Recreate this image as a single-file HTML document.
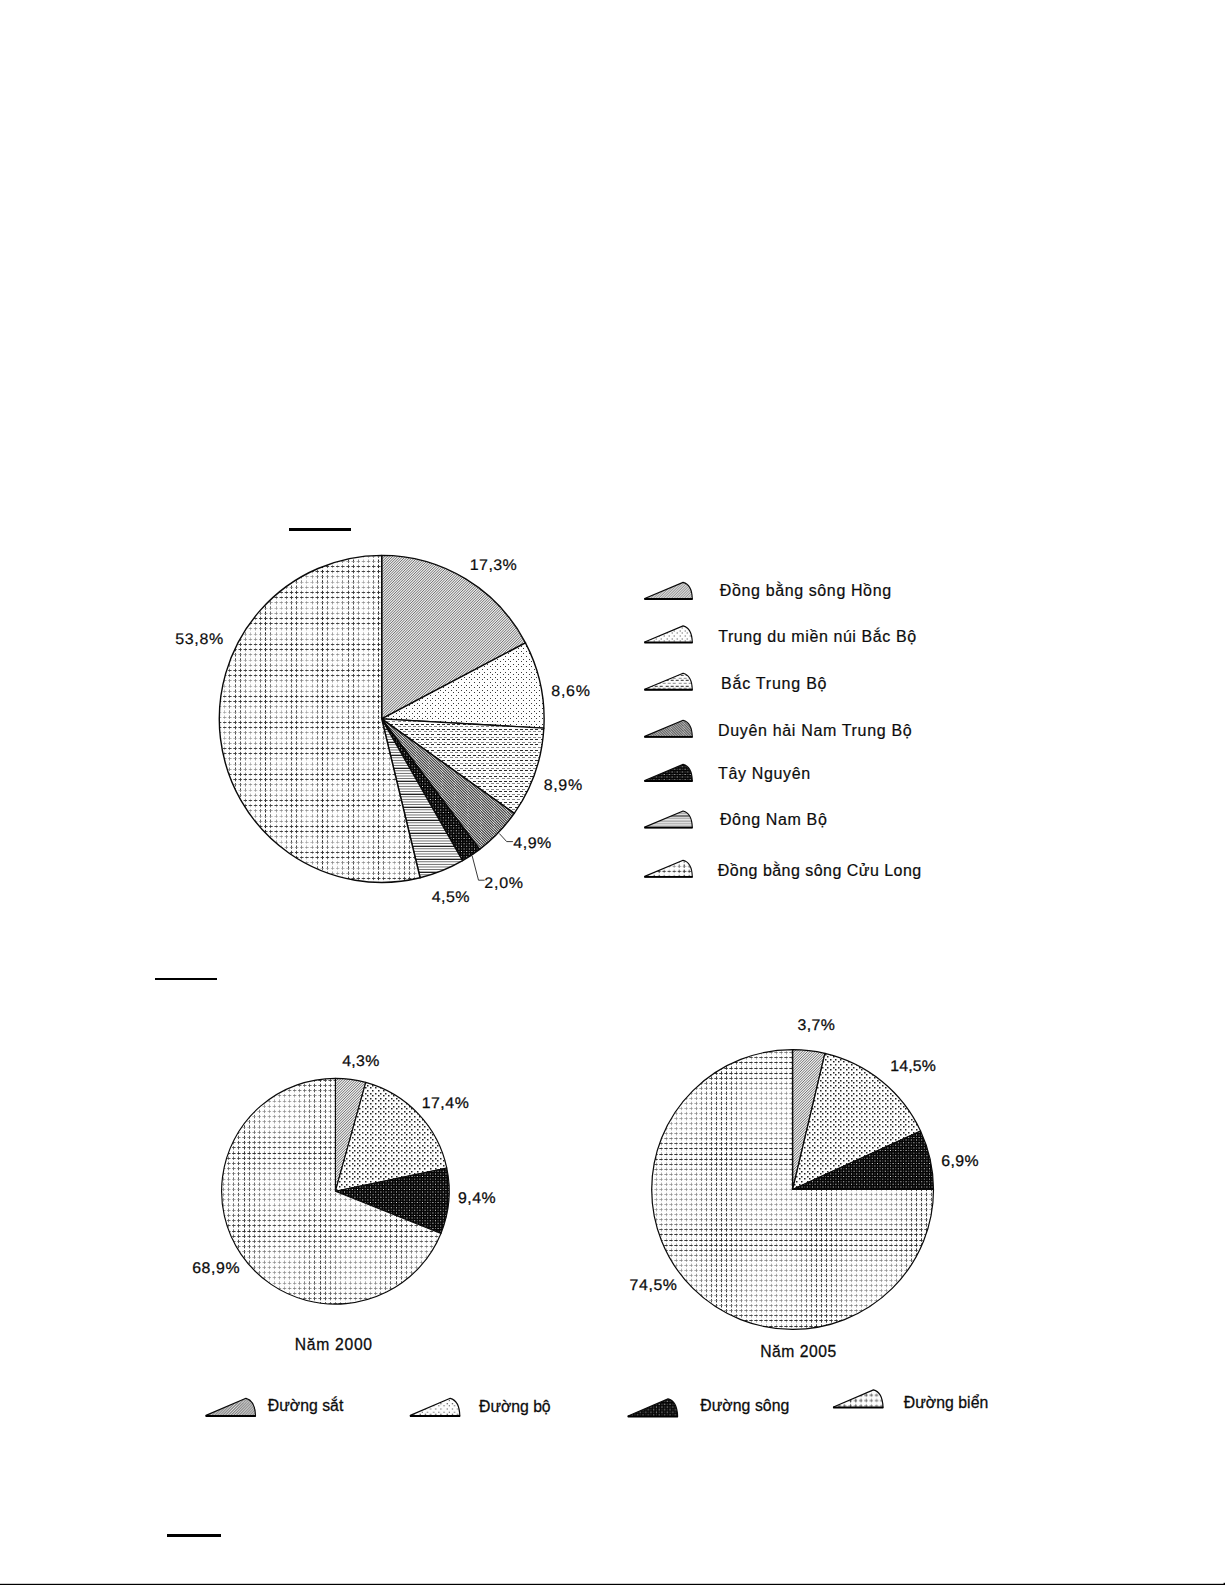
<!DOCTYPE html>
<html lang="vi"><head><meta charset="utf-8"><title>Biểu đồ</title>
<style>
html,body{margin:0;padding:0;background:#fff}
body{width:1225px;height:1585px;overflow:hidden}
svg{display:block}
text{font-family:"Liberation Sans", "DejaVu Sans", sans-serif;fill:#0c0c0c;stroke:#0c0c0c;stroke-width:0.2px}
text.g{text-rendering:geometricPrecision}
text.b{stroke-width:0.26px}
</style></head><body>
<svg width="1225" height="1585" viewBox="0 0 1225 1585">
<defs>
<pattern id="pDiag" width="13" height="13" patternUnits="userSpaceOnUse"><rect width="13" height="13" fill="#e8e8e8"/><path d="M0,0L-13,13M2.6,0L-10.4,13M5.2,0L-7.8,13M7.8,0L-5.2,13M10.4,0L-2.6,13M13,0L0,13M15.6,0L2.6,13M18.2,0L5.2,13M20.8,0L7.8,13M23.4,0L10.4,13M26,0L13,13M28.6,0L15.6,13" stroke="#757575" stroke-width="1.0" fill="none"/></pattern>
<pattern id="pGray" width="13" height="13" patternUnits="userSpaceOnUse"><rect width="13" height="13" fill="#ececec"/><path d="M0,0L-13,13M2.6,0L-10.4,13M5.2,0L-7.8,13M7.8,0L-5.2,13M10.4,0L-2.6,13M13,0L0,13M15.6,0L2.6,13M18.2,0L5.2,13M20.8,0L7.8,13M23.4,0L10.4,13M26,0L13,13M28.6,0L15.6,13" stroke="#757575" stroke-width="1.0" fill="none"/></pattern>
<pattern id="pDiagD" width="13" height="13" patternUnits="userSpaceOnUse"><rect width="13" height="13" fill="#f4f4f4"/><path d="M0,-15.6L13,-2.6M0,-13L13,0M0,-10.4L13,2.6M0,-7.8L13,5.2M0,-5.2L13,7.8M0,-2.6L13,10.4M0,0L13,13M0,2.6L13,15.6M0,5.2L13,18.2M0,7.8L13,20.8M0,10.4L13,23.4M0,13L13,26M0,15.6L13,28.6" stroke="#343434" stroke-width="1.05" fill="none"/></pattern>
<pattern id="pDotS" width="26" height="26" patternUnits="userSpaceOnUse"><rect width="26" height="26" fill="#fdfdfd"/><path d="M-4,1h1v1h-1zM1,1h1v1h-1zM6,1h1v1h-1zM11,1h1v1h-1zM16,1h1v1h-1zM22,1h1v1h-1zM27,1h1v1h-1zM-4,6h1v1h-1zM1,6h1v1h-1zM6,6h1v1h-1zM11,6h1v1h-1zM16,6h1v1h-1zM22,6h1v1h-1zM27,6h1v1h-1zM-4,11h1v1h-1zM1,11h1v1h-1zM6,11h1v1h-1zM11,11h1v1h-1zM16,11h1v1h-1zM22,11h1v1h-1zM27,11h1v1h-1zM-4,16h1v1h-1zM1,16h1v1h-1zM6,16h1v1h-1zM11,16h1v1h-1zM16,16h1v1h-1zM22,16h1v1h-1zM27,16h1v1h-1zM-4,22h1v1h-1zM1,22h1v1h-1zM6,22h1v1h-1zM11,22h1v1h-1zM16,22h1v1h-1zM22,22h1v1h-1zM27,22h1v1h-1z" fill="#383838"/><path d="M-2,3h1v1h-1zM3,3h1v1h-1zM9,3h1v1h-1zM14,3h1v1h-1zM19,3h1v1h-1zM24,3h1v1h-1zM29,3h1v1h-1zM-2,9h1v1h-1zM3,9h1v1h-1zM9,9h1v1h-1zM14,9h1v1h-1zM19,9h1v1h-1zM24,9h1v1h-1zM29,9h1v1h-1zM-2,14h1v1h-1zM3,14h1v1h-1zM9,14h1v1h-1zM14,14h1v1h-1zM19,14h1v1h-1zM24,14h1v1h-1zM29,14h1v1h-1zM-2,19h1v1h-1zM3,19h1v1h-1zM9,19h1v1h-1zM14,19h1v1h-1zM19,19h1v1h-1zM24,19h1v1h-1zM29,19h1v1h-1zM-2,24h1v1h-1zM3,24h1v1h-1zM9,24h1v1h-1zM14,24h1v1h-1zM19,24h1v1h-1zM24,24h1v1h-1zM29,24h1v1h-1z" fill="#383838"/></pattern>
<pattern id="pDotM" width="26" height="26" patternUnits="userSpaceOnUse"><rect width="26" height="26" fill="#fdfdfd"/><path d="M-5,1h1.5v1.5h-1.5zM1,1h1.5v1.5h-1.5zM6,1h1.5v1.5h-1.5zM11,1h1.5v1.5h-1.5zM16,1h1.5v1.5h-1.5zM21,1h1.5v1.5h-1.5zM27,1h1.5v1.5h-1.5zM-5,6h1.5v1.5h-1.5zM1,6h1.5v1.5h-1.5zM6,6h1.5v1.5h-1.5zM11,6h1.5v1.5h-1.5zM16,6h1.5v1.5h-1.5zM21,6h1.5v1.5h-1.5zM27,6h1.5v1.5h-1.5zM-5,11h1.5v1.5h-1.5zM1,11h1.5v1.5h-1.5zM6,11h1.5v1.5h-1.5zM11,11h1.5v1.5h-1.5zM16,11h1.5v1.5h-1.5zM21,11h1.5v1.5h-1.5zM27,11h1.5v1.5h-1.5zM-5,16h1.5v1.5h-1.5zM1,16h1.5v1.5h-1.5zM6,16h1.5v1.5h-1.5zM11,16h1.5v1.5h-1.5zM16,16h1.5v1.5h-1.5zM21,16h1.5v1.5h-1.5zM27,16h1.5v1.5h-1.5zM-5,21h1.5v1.5h-1.5zM1,21h1.5v1.5h-1.5zM6,21h1.5v1.5h-1.5zM11,21h1.5v1.5h-1.5zM16,21h1.5v1.5h-1.5zM21,21h1.5v1.5h-1.5zM27,21h1.5v1.5h-1.5z" fill="#222"/><path d="M-2,3h1.5v1.5h-1.5zM3,3h1.5v1.5h-1.5zM8,3h1.5v1.5h-1.5zM14,3h1.5v1.5h-1.5zM19,3h1.5v1.5h-1.5zM24,3h1.5v1.5h-1.5zM29,3h1.5v1.5h-1.5zM-2,8h1.5v1.5h-1.5zM3,8h1.5v1.5h-1.5zM8,8h1.5v1.5h-1.5zM14,8h1.5v1.5h-1.5zM19,8h1.5v1.5h-1.5zM24,8h1.5v1.5h-1.5zM29,8h1.5v1.5h-1.5zM-2,14h1.5v1.5h-1.5zM3,14h1.5v1.5h-1.5zM8,14h1.5v1.5h-1.5zM14,14h1.5v1.5h-1.5zM19,14h1.5v1.5h-1.5zM24,14h1.5v1.5h-1.5zM29,14h1.5v1.5h-1.5zM-2,19h1.5v1.5h-1.5zM3,19h1.5v1.5h-1.5zM8,19h1.5v1.5h-1.5zM14,19h1.5v1.5h-1.5zM19,19h1.5v1.5h-1.5zM24,19h1.5v1.5h-1.5zM29,19h1.5v1.5h-1.5zM-2,24h1.5v1.5h-1.5zM3,24h1.5v1.5h-1.5zM8,24h1.5v1.5h-1.5zM14,24h1.5v1.5h-1.5zM19,24h1.5v1.5h-1.5zM24,24h1.5v1.5h-1.5zM29,24h1.5v1.5h-1.5z" fill="#222"/></pattern>
<pattern id="pDash" width="26" height="26" patternUnits="userSpaceOnUse"><rect width="26" height="26" fill="#fdfdfd"/><path d="M-5,1h3v1h-3zM0,1h3v1h-3zM5,1h3v1h-3zM10,1h3v1h-3zM15,1h3v1h-3zM21,1h3v1h-3zM26,1h3v1h-3zM-5,6h3v1h-3zM0,6h3v1h-3zM5,6h3v1h-3zM10,6h3v1h-3zM15,6h3v1h-3zM21,6h3v1h-3zM26,6h3v1h-3zM-5,11h3v1h-3zM0,11h3v1h-3zM5,11h3v1h-3zM10,11h3v1h-3zM15,11h3v1h-3zM21,11h3v1h-3zM26,11h3v1h-3zM-5,16h3v1h-3zM0,16h3v1h-3zM5,16h3v1h-3zM10,16h3v1h-3zM15,16h3v1h-3zM21,16h3v1h-3zM26,16h3v1h-3zM-5,22h3v1h-3zM0,22h3v1h-3zM5,22h3v1h-3zM10,22h3v1h-3zM15,22h3v1h-3zM21,22h3v1h-3zM26,22h3v1h-3z" fill="#2c2c2c"/><path d="M-3,3h3v1h-3zM2,3h3v1h-3zM8,3h3v1h-3zM13,3h3v1h-3zM18,3h3v1h-3zM23,3h3v1h-3zM28,3h3v1h-3zM-3,9h3v1h-3zM2,9h3v1h-3zM8,9h3v1h-3zM13,9h3v1h-3zM18,9h3v1h-3zM23,9h3v1h-3zM28,9h3v1h-3zM-3,14h3v1h-3zM2,14h3v1h-3zM8,14h3v1h-3zM13,14h3v1h-3zM18,14h3v1h-3zM23,14h3v1h-3zM28,14h3v1h-3zM-3,19h3v1h-3zM2,19h3v1h-3zM8,19h3v1h-3zM13,19h3v1h-3zM18,19h3v1h-3zM23,19h3v1h-3zM28,19h3v1h-3zM-3,24h3v1h-3zM2,24h3v1h-3zM8,24h3v1h-3zM13,24h3v1h-3zM18,24h3v1h-3zM23,24h3v1h-3zM28,24h3v1h-3z" fill="#8a8a8a"/></pattern>
<pattern id="pBlk" width="26" height="26" patternUnits="userSpaceOnUse"><rect width="26" height="26" fill="#050505"/><path d="M0.83,0.83h0.95v0.95h-0.95zM6.03,0.83h0.95v0.95h-0.95zM11.23,0.83h0.95v0.95h-0.95zM16.43,0.83h0.95v0.95h-0.95zM21.62,0.83h0.95v0.95h-0.95zM3.43,3.43h0.95v0.95h-0.95zM8.63,3.43h0.95v0.95h-0.95zM13.83,3.43h0.95v0.95h-0.95zM19.02,3.43h0.95v0.95h-0.95zM24.23,3.43h0.95v0.95h-0.95zM0.83,6.03h0.95v0.95h-0.95zM6.03,6.03h0.95v0.95h-0.95zM11.23,6.03h0.95v0.95h-0.95zM16.43,6.03h0.95v0.95h-0.95zM21.62,6.03h0.95v0.95h-0.95zM3.43,8.63h0.95v0.95h-0.95zM8.63,8.63h0.95v0.95h-0.95zM13.83,8.63h0.95v0.95h-0.95zM19.02,8.63h0.95v0.95h-0.95zM24.23,8.63h0.95v0.95h-0.95zM0.83,11.23h0.95v0.95h-0.95zM6.03,11.23h0.95v0.95h-0.95zM11.23,11.23h0.95v0.95h-0.95zM16.43,11.23h0.95v0.95h-0.95zM21.62,11.23h0.95v0.95h-0.95zM3.43,13.83h0.95v0.95h-0.95zM8.63,13.83h0.95v0.95h-0.95zM13.83,13.83h0.95v0.95h-0.95zM19.02,13.83h0.95v0.95h-0.95zM24.23,13.83h0.95v0.95h-0.95zM0.83,16.43h0.95v0.95h-0.95zM6.03,16.43h0.95v0.95h-0.95zM11.23,16.43h0.95v0.95h-0.95zM16.43,16.43h0.95v0.95h-0.95zM21.62,16.43h0.95v0.95h-0.95zM3.43,19.02h0.95v0.95h-0.95zM8.63,19.02h0.95v0.95h-0.95zM13.83,19.02h0.95v0.95h-0.95zM19.02,19.02h0.95v0.95h-0.95zM24.23,19.02h0.95v0.95h-0.95zM0.83,21.62h0.95v0.95h-0.95zM6.03,21.62h0.95v0.95h-0.95zM11.23,21.62h0.95v0.95h-0.95zM16.43,21.62h0.95v0.95h-0.95zM21.62,21.62h0.95v0.95h-0.95zM3.43,24.23h0.95v0.95h-0.95zM8.63,24.23h0.95v0.95h-0.95zM13.83,24.23h0.95v0.95h-0.95zM19.02,24.23h0.95v0.95h-0.95zM24.23,24.23h0.95v0.95h-0.95z" fill="#f0f0f0"/><path d="M3.43,0.83h0.95v0.95h-0.95zM8.63,0.83h0.95v0.95h-0.95zM13.83,0.83h0.95v0.95h-0.95zM19.02,0.83h0.95v0.95h-0.95zM24.23,0.83h0.95v0.95h-0.95zM0.83,3.43h0.95v0.95h-0.95zM6.03,3.43h0.95v0.95h-0.95zM11.23,3.43h0.95v0.95h-0.95zM16.43,3.43h0.95v0.95h-0.95zM21.62,3.43h0.95v0.95h-0.95zM3.43,6.03h0.95v0.95h-0.95zM8.63,6.03h0.95v0.95h-0.95zM13.83,6.03h0.95v0.95h-0.95zM19.02,6.03h0.95v0.95h-0.95zM24.23,6.03h0.95v0.95h-0.95zM0.83,8.63h0.95v0.95h-0.95zM6.03,8.63h0.95v0.95h-0.95zM11.23,8.63h0.95v0.95h-0.95zM16.43,8.63h0.95v0.95h-0.95zM21.62,8.63h0.95v0.95h-0.95zM3.43,11.23h0.95v0.95h-0.95zM8.63,11.23h0.95v0.95h-0.95zM13.83,11.23h0.95v0.95h-0.95zM19.02,11.23h0.95v0.95h-0.95zM24.23,11.23h0.95v0.95h-0.95zM0.83,13.83h0.95v0.95h-0.95zM6.03,13.83h0.95v0.95h-0.95zM11.23,13.83h0.95v0.95h-0.95zM16.43,13.83h0.95v0.95h-0.95zM21.62,13.83h0.95v0.95h-0.95zM3.43,16.43h0.95v0.95h-0.95zM8.63,16.43h0.95v0.95h-0.95zM13.83,16.43h0.95v0.95h-0.95zM19.02,16.43h0.95v0.95h-0.95zM24.23,16.43h0.95v0.95h-0.95zM0.83,19.02h0.95v0.95h-0.95zM6.03,19.02h0.95v0.95h-0.95zM11.23,19.02h0.95v0.95h-0.95zM16.43,19.02h0.95v0.95h-0.95zM21.62,19.02h0.95v0.95h-0.95zM3.43,21.62h0.95v0.95h-0.95zM8.63,21.62h0.95v0.95h-0.95zM13.83,21.62h0.95v0.95h-0.95zM19.02,21.62h0.95v0.95h-0.95zM24.23,21.62h0.95v0.95h-0.95zM0.83,24.23h0.95v0.95h-0.95zM6.03,24.23h0.95v0.95h-0.95zM11.23,24.23h0.95v0.95h-0.95zM16.43,24.23h0.95v0.95h-0.95zM21.62,24.23h0.95v0.95h-0.95z" fill="#707070"/></pattern>
<pattern id="pHl" width="13" height="13" patternUnits="userSpaceOnUse"><rect width="13" height="13" fill="#fdfdfd"/><rect y="0.7" width="13" height="1.2" fill="#0a0a0a"/><rect y="3.35" width="13" height="0.85" fill="#5e5e5e"/><rect y="5.95" width="13" height="0.85" fill="#5e5e5e"/><rect y="8.55" width="13" height="0.85" fill="#5e5e5e"/><rect y="11.15" width="13" height="0.85" fill="#5e5e5e"/></pattern>
<pattern id="pGrid" x="237" y="725" width="113" height="26" patternUnits="userSpaceOnUse">
<rect width="113" height="26" fill="#fdfdfd"/>
<path d="M-1.5,-5.2V36.4M3.5,-5.2V36.4M54.5,-5.2V36.4M59.5,-5.2V36.4M111.5,-5.2V36.4M116.5,-5.2V36.4" stroke="#343434" stroke-width="0.9" stroke-dasharray="3.4 1.800" stroke-dashoffset="-0.900" fill="none"/>
<path d="M8.5,-5.2V36.4M49.5,-5.2V36.4M64.5,-5.2V36.4M105.5,-5.2V36.4" stroke="#6a6a6a" stroke-width="0.79" stroke-dasharray="3.4 1.800" stroke-dashoffset="-0.900" fill="none"/>
<path d="M13.5,-5.2V36.4M44.5,-5.2V36.4M69.5,-5.2V36.4M100.5,-5.2V36.4" stroke="#a0a0a0" stroke-width="0.68" stroke-dasharray="3.4 1.800" stroke-dashoffset="-0.900" fill="none"/>
<path d="M18.5,-5.2V36.4M39.5,-5.2V36.4M75.5,-5.2V36.4M95.5,-5.2V36.4" stroke="#858585" stroke-width="0.73" stroke-dasharray="3.4 1.800" stroke-dashoffset="-0.900" fill="none"/>
<path d="M23.5,-5.2V36.4M33.5,-5.2V36.4M80.5,-5.2V36.4M90.5,-5.2V36.4" stroke="#4f4f4f" stroke-width="0.84" stroke-dasharray="3.4 1.800" stroke-dashoffset="-0.900" fill="none"/>
<path d="M28.5,-5.2V36.4M85.5,-5.2V36.4" stroke="#191919" stroke-width="0.95" stroke-dasharray="3.4 1.800" stroke-dashoffset="-0.900" fill="none"/>
<path d="M-4.54,-2.5H123.27M-4.54,2.5H123.27M-4.54,23.5H123.27M-4.54,28.5H123.27" stroke="#343434" stroke-width="0.9" stroke-dasharray="3.4 1.736" stroke-dashoffset="-0.868" fill="none"/>
<path d="M-4.54,7.5H123.27M-4.54,18.5H123.27" stroke="#858585" stroke-width="0.73" stroke-dasharray="3.4 1.736" stroke-dashoffset="-0.868" fill="none"/>
<path d="M-4.54,13.5H123.27" stroke="#a0a0a0" stroke-width="0.68" stroke-dasharray="3.4 1.736" stroke-dashoffset="-0.868" fill="none"/>
</pattern>
<pattern id="pGrid2" x="244" y="1153" width="76" height="78" patternUnits="userSpaceOnUse">
<rect width="76" height="78" fill="#fdfdfd"/>
<path d="M-5.5,-7.8V88.4M5.5,-7.8V88.4M70.5,-7.8V88.4" stroke="#404040" stroke-width="0.9" stroke-dasharray="3.4 1.800" stroke-dashoffset="-0.900" fill="none"/>
<path d="M0.5,-7.8V88.4M76.5,-7.8V88.4" stroke="#2d2d2d" stroke-width="0.95" stroke-dasharray="3.4 1.800" stroke-dashoffset="-0.900" fill="none"/>
<path d="M10.5,-7.8V88.4M65.5,-7.8V88.4" stroke="#525252" stroke-width="0.84" stroke-dasharray="3.4 1.800" stroke-dashoffset="-0.900" fill="none"/>
<path d="M15.5,-7.8V88.4M60.5,-7.8V88.4" stroke="#656565" stroke-width="0.79" stroke-dasharray="3.4 1.800" stroke-dashoffset="-0.900" fill="none"/>
<path d="M20.5,-7.8V88.4M55.5,-7.8V88.4" stroke="#777777" stroke-width="0.73" stroke-dasharray="3.4 1.800" stroke-dashoffset="-0.900" fill="none"/>
<path d="M25.5,-7.8V88.4M30.5,-7.8V88.4M35.5,-7.8V88.4M40.5,-7.8V88.4M45.5,-7.8V88.4M50.5,-7.8V88.4" stroke="#8a8a8a" stroke-width="0.68" stroke-dasharray="3.4 1.800" stroke-dashoffset="-0.900" fill="none"/>
<path d="M-7.6,-5.5H86.13M-7.6,5.5H86.13M-7.6,72.5H86.13" stroke="#404040" stroke-width="0.9" stroke-dasharray="3.4 1.667" stroke-dashoffset="-0.833" fill="none"/>
<path d="M-7.6,0.5H86.13M-7.6,78.5H86.13" stroke="#2d2d2d" stroke-width="0.95" stroke-dasharray="3.4 1.667" stroke-dashoffset="-0.833" fill="none"/>
<path d="M-7.6,10.5H86.13M-7.6,67.5H86.13" stroke="#525252" stroke-width="0.84" stroke-dasharray="3.4 1.667" stroke-dashoffset="-0.833" fill="none"/>
<path d="M-7.6,15.5H86.13M-7.6,62.5H86.13" stroke="#656565" stroke-width="0.79" stroke-dasharray="3.4 1.667" stroke-dashoffset="-0.833" fill="none"/>
<path d="M-7.6,20.5H86.13M-7.6,57.5H86.13" stroke="#777777" stroke-width="0.73" stroke-dasharray="3.4 1.667" stroke-dashoffset="-0.833" fill="none"/>
<path d="M-7.6,26.5H86.13M-7.6,31.5H86.13M-7.6,36.5H86.13M-7.6,41.5H86.13M-7.6,46.5H86.13M-7.6,52.5H86.13" stroke="#8a8a8a" stroke-width="0.68" stroke-dasharray="3.4 1.667" stroke-dashoffset="-0.833" fill="none"/>
</pattern>
<pattern id="pGrid3" x="721" y="1240" width="100" height="86" patternUnits="userSpaceOnUse">
<rect width="100" height="86" fill="#fdfdfd"/>
<path d="M-4.5,-7.59V96.12M0.5,-7.59V96.12M5.5,-7.59V96.12M95.5,-7.59V96.12M100.5,-7.59V96.12" stroke="#2d2d2d" stroke-width="0.95" stroke-dasharray="3.4 1.659" stroke-dashoffset="-0.829" fill="none"/>
<path d="M10.5,-7.59V96.12M90.5,-7.59V96.12" stroke="#404040" stroke-width="0.9" stroke-dasharray="3.4 1.659" stroke-dashoffset="-0.829" fill="none"/>
<path d="M15.5,-7.59V96.12M85.5,-7.59V96.12" stroke="#525252" stroke-width="0.84" stroke-dasharray="3.4 1.659" stroke-dashoffset="-0.829" fill="none"/>
<path d="M20.5,-7.59V96.12M80.5,-7.59V96.12" stroke="#656565" stroke-width="0.79" stroke-dasharray="3.4 1.659" stroke-dashoffset="-0.829" fill="none"/>
<path d="M25.5,-7.59V96.12M75.5,-7.59V96.12" stroke="#777777" stroke-width="0.73" stroke-dasharray="3.4 1.659" stroke-dashoffset="-0.829" fill="none"/>
<path d="M30.5,-7.59V96.12M35.5,-7.59V96.12M40.5,-7.59V96.12M45.5,-7.59V96.12M50.5,-7.59V96.12M55.5,-7.59V96.12M60.5,-7.59V96.12M65.5,-7.59V96.12M70.5,-7.59V96.12" stroke="#8a8a8a" stroke-width="0.68" stroke-dasharray="3.4 1.659" stroke-dashoffset="-0.829" fill="none"/>
<path d="M-7.5,-5.5H110M-7.5,0.5H110M-7.5,5.5H110M-7.5,80.5H110M-7.5,86.5H110" stroke="#2d2d2d" stroke-width="0.95" stroke-dasharray="3.4 1.600" stroke-dashoffset="-0.800" fill="none"/>
<path d="M-7.5,10.5H110M-7.5,75.5H110" stroke="#404040" stroke-width="0.9" stroke-dasharray="3.4 1.600" stroke-dashoffset="-0.800" fill="none"/>
<path d="M-7.5,15.5H110M-7.5,70.5H110" stroke="#656565" stroke-width="0.79" stroke-dasharray="3.4 1.600" stroke-dashoffset="-0.800" fill="none"/>
<path d="M-7.5,20.5H110M-7.5,65.5H110" stroke="#777777" stroke-width="0.73" stroke-dasharray="3.4 1.600" stroke-dashoffset="-0.800" fill="none"/>
<path d="M-7.5,25.5H110M-7.5,30.5H110M-7.5,35.5H110M-7.5,40.5H110M-7.5,45.5H110M-7.5,50.5H110M-7.5,55.5H110M-7.5,60.5H110" stroke="#8a8a8a" stroke-width="0.68" stroke-dasharray="3.4 1.600" stroke-dashoffset="-0.800" fill="none"/>
</pattern>
</defs>
<rect width="1225" height="1585" fill="#fff"/>
<rect x="289" y="528" width="62" height="3" fill="#000"/>
<rect x="155" y="978" width="62" height="2" fill="#000"/>
<rect x="167" y="1534" width="54" height="3" fill="#000"/>
<rect x="0" y="1583.8" width="1225" height="1.2" fill="#000"/><rect x="1223.6" y="1582.8" width="1.4" height="1.5" fill="#000"/>
<path d="M381.70,718.90 L381.70,555.40 A162.40,163.50 0 0 1 525.46,642.85 Z" fill="url(#pDiag)" stroke="#0a0a0a" stroke-width="1.4" stroke-linejoin="round"/>
<path d="M381.70,718.90 L525.46,642.85 A162.40,163.50 0 0 1 543.84,728.14 Z" fill="url(#pDotS)" stroke="#0a0a0a" stroke-width="1.4" stroke-linejoin="round"/>
<path d="M381.70,718.90 L543.84,728.14 A162.40,163.50 0 0 1 514.27,813.33 Z" fill="url(#pDash)" stroke="#0a0a0a" stroke-width="1.4" stroke-linejoin="round"/>
<path d="M381.70,718.90 L514.27,813.33 A162.40,163.50 0 0 1 479.62,849.34 Z" fill="url(#pDiagD)" stroke="#0a0a0a" stroke-width="1.4" stroke-linejoin="round"/>
<path d="M381.70,718.90 L479.62,849.34 A162.40,163.50 0 0 1 462.61,860.67 Z" fill="url(#pBlk)" stroke="#0a0a0a" stroke-width="1.4" stroke-linejoin="round"/>
<path d="M381.70,718.90 L462.61,860.67 A162.40,163.50 0 0 1 420.11,877.76 Z" fill="url(#pHl)" stroke="#0a0a0a" stroke-width="1.4" stroke-linejoin="round"/>
<path d="M381.70,718.90 L420.11,877.76 A162.40,163.50 0 1 1 381.70,555.40 Z" fill="url(#pGrid)" stroke="#0a0a0a" stroke-width="1.4" stroke-linejoin="round"/>
<path d="M499.3,833.5 L506.7,841.6 L512.9,841.6" fill="none" stroke="#222" stroke-width="0.9"/>
<path d="M472.2,856 L478.5,880.2 L484.6,880.2" fill="none" stroke="#222" stroke-width="0.9"/>
<g transform="translate(644.7,599) scale(1.0,1.0)"><path d="M0,0 L47.6,0 C47.4,-8 44.8,-15 38.4,-16.6 L0,-0.5 Z" fill="url(#pDiag)" stroke="#0a0a0a" stroke-width="1.15" stroke-linejoin="round"/><path d="M-0.3,0 L47.9,0" stroke="#000" stroke-width="1.9"/></g>
<g transform="translate(644.7,642.5) scale(1.0,1.0)"><path d="M0,0 L47.6,0 C47.4,-8 44.8,-15 38.4,-16.6 L0,-0.5 Z" fill="url(#pDotS)" stroke="#0a0a0a" stroke-width="1.15" stroke-linejoin="round"/><path d="M-0.3,0 L47.9,0" stroke="#000" stroke-width="1.9"/></g>
<g transform="translate(644.7,689.8) scale(1.0,1.0)"><path d="M0,0 L47.6,0 C47.4,-8 44.8,-15 38.4,-16.6 L0,-0.5 Z" fill="url(#pDash)" stroke="#0a0a0a" stroke-width="1.15" stroke-linejoin="round"/><path d="M-0.3,0 L47.9,0" stroke="#000" stroke-width="1.9"/></g>
<g transform="translate(644.7,736.9) scale(1.0,1.0)"><path d="M0,0 L47.6,0 C47.4,-8 44.8,-15 38.4,-16.6 L0,-0.5 Z" fill="url(#pDiagD)" stroke="#0a0a0a" stroke-width="1.15" stroke-linejoin="round"/><path d="M-0.3,0 L47.9,0" stroke="#000" stroke-width="1.9"/></g>
<g transform="translate(644.7,781) scale(1.0,1.0)"><path d="M0,0 L47.6,0 C47.4,-8 44.8,-15 38.4,-16.6 L0,-0.5 Z" fill="url(#pBlk)" stroke="#0a0a0a" stroke-width="1.15" stroke-linejoin="round"/><path d="M-0.3,0 L47.9,0" stroke="#000" stroke-width="1.9"/></g>
<g transform="translate(644.7,827.6) scale(1.0,1.0)"><path d="M0,0 L47.6,0 C47.4,-8 44.8,-15 38.4,-16.6 L0,-0.5 Z" fill="url(#pHl)" stroke="#0a0a0a" stroke-width="1.15" stroke-linejoin="round"/><path d="M-0.3,0 L47.9,0" stroke="#000" stroke-width="1.9"/></g>
<g transform="translate(644.7,876.9) scale(1.0,1.0)"><path d="M0,0 L47.6,0 C47.4,-8 44.8,-15 38.4,-16.6 L0,-0.5 Z" fill="url(#pGrid)" stroke="#0a0a0a" stroke-width="1.15" stroke-linejoin="round"/><path d="M-0.3,0 L47.9,0" stroke="#000" stroke-width="1.9"/></g>
<path d="M335.40,1191.20 L335.40,1078.30 A113.80,112.90 0 0 1 365.77,1082.40 Z" fill="url(#pGray)" stroke="#0a0a0a" stroke-width="1.15" stroke-linejoin="round"/>
<path d="M335.40,1191.20 L365.77,1082.40 A113.80,112.90 0 0 1 446.76,1167.96 Z" fill="url(#pDotM)" stroke="#0a0a0a" stroke-width="1.15" stroke-linejoin="round"/>
<path d="M335.40,1191.20 L446.76,1167.96 A113.80,112.90 0 0 1 440.94,1233.42 Z" fill="url(#pBlk)" stroke="#0a0a0a" stroke-width="1.15" stroke-linejoin="round"/>
<path d="M335.40,1191.20 L440.94,1233.42 A113.80,112.90 0 1 1 335.40,1078.30 Z" fill="url(#pGrid2)" stroke="#0a0a0a" stroke-width="1.15" stroke-linejoin="round"/>
<path d="M792.60,1189.50 L792.60,1049.60 A140.90,139.90 0 0 1 824.93,1053.33 Z" fill="url(#pGray)" stroke="#0a0a0a" stroke-width="1.2" stroke-linejoin="round"/>
<path d="M792.60,1189.50 L824.93,1053.33 A140.90,139.90 0 0 1 920.57,1130.95 Z" fill="url(#pDotM)" stroke="#0a0a0a" stroke-width="1.2" stroke-linejoin="round"/>
<path d="M792.60,1189.50 L920.57,1130.95 A140.90,139.90 0 0 1 933.50,1189.50 Z" fill="url(#pBlk)" stroke="#0a0a0a" stroke-width="1.2" stroke-linejoin="round"/>
<path d="M792.60,1189.50 L933.50,1189.50 A140.90,139.90 0 1 1 792.60,1049.60 Z" fill="url(#pGrid3)" stroke="#0a0a0a" stroke-width="1.2" stroke-linejoin="round"/>
<g transform="translate(206.0,1415.9) scale(1.04,1.06)"><path d="M0,0 L47.6,0 C47.4,-8 44.8,-15 38.4,-16.6 L0,-0.5 Z" fill="url(#pGray)" stroke="#0a0a0a" stroke-width="1.15" stroke-linejoin="round"/><path d="M-0.3,0 L47.9,0" stroke="#000" stroke-width="1.9"/></g>
<g transform="translate(410.3,1415.9) scale(1.04,1.06)"><path d="M0,0 L47.6,0 C47.4,-8 44.8,-15 38.4,-16.6 L0,-0.5 Z" fill="url(#pDotS)" stroke="#0a0a0a" stroke-width="1.15" stroke-linejoin="round"/><path d="M-0.3,0 L47.9,0" stroke="#000" stroke-width="1.9"/></g>
<g transform="translate(628.1,1416.5) scale(1.04,1.06)"><path d="M0,0 L47.6,0 C47.4,-8 44.8,-15 38.4,-16.6 L0,-0.5 Z" fill="url(#pBlk)" stroke="#0a0a0a" stroke-width="1.15" stroke-linejoin="round"/><path d="M-0.3,0 L47.9,0" stroke="#000" stroke-width="1.9"/></g>
<g transform="translate(833.5,1407.5) scale(1.04,1.06)"><path d="M0,0 L47.6,0 C47.4,-8 44.8,-15 38.4,-16.6 L0,-0.5 Z" fill="url(#pGrid2)" stroke="#0a0a0a" stroke-width="1.15" stroke-linejoin="round"/><path d="M-0.3,0 L47.9,0" stroke="#000" stroke-width="1.9"/></g>
<text class="g" transform="translate(469.78,569.6) scale(1.04,1)" font-size="15.4" letter-spacing="0.39">17,3%</text>
<text class="g" transform="translate(551.25,695.6) scale(1.04,1)" font-size="15.4" letter-spacing="0.696">8,6%</text>
<text class="g" transform="translate(543.64,789.5) scale(1.04,1)" font-size="15.4" letter-spacing="0.664">8,9%</text>
<text class="g" transform="translate(513.32,847.8) scale(1.04,1)" font-size="15.4" letter-spacing="0.494">4,9%</text>
<text class="g" transform="translate(484.25,888.4) scale(1.04,1)" font-size="15.4" letter-spacing="0.76">2,0%</text>
<text class="g" transform="translate(431.77,902.3) scale(1.04,1)" font-size="15.4" letter-spacing="0.43">4,5%</text>
<text class="g" transform="translate(175.21,643.9) scale(1.04,1)" font-size="15.4" letter-spacing="0.618">53,8%</text>
<text class="h" transform="translate(719.87,595.7) scale(1.0,1)" font-size="16" letter-spacing="0.614">Đồng bằng sông Hồng</text>
<text class="h" transform="translate(718.16,641.7) scale(1.0,1)" font-size="16" letter-spacing="0.587">Trung du miền núi Bắc Bộ</text>
<text class="h" transform="translate(721.04,689.1) scale(1.0,1)" font-size="16" letter-spacing="0.776">Bắc Trung Bộ</text>
<text class="h" transform="translate(718.03,735.9) scale(1.0,1)" font-size="16" letter-spacing="0.664">Duyên hải Nam Trung Bộ</text>
<text class="h" transform="translate(717.96,779.0) scale(1.0,1)" font-size="16" letter-spacing="0.653">Tây Nguyên</text>
<text class="h" transform="translate(719.92,824.5) scale(1.0,1)" font-size="16" letter-spacing="0.638">Đông Nam Bộ</text>
<text class="h" transform="translate(717.85,875.8) scale(1.0,1)" font-size="16" letter-spacing="0.466">Đồng bằng sông Cửu Long</text>
<text class="g b" transform="translate(342.17,1065.8) scale(1.03,1)" font-size="15.4" letter-spacing="0.341">4,3%</text>
<text class="g b" transform="translate(421.63,1108.0) scale(1.03,1)" font-size="15.4" letter-spacing="0.52">17,4%</text>
<text class="g b" transform="translate(457.95,1202.8) scale(1.03,1)" font-size="15.4" letter-spacing="0.484">9,4%</text>
<text class="g b" transform="translate(192.14,1273.2) scale(1.03,1)" font-size="15.4" letter-spacing="0.607">68,9%</text>
<text class="h b" transform="translate(294.82,1349.9) scale(1.0,1)" font-size="15.7" letter-spacing="0.691">Năm 2000</text>
<text class="g b" transform="translate(797.44,1030.4) scale(1.03,1)" font-size="15.4" letter-spacing="0.419">3,7%</text>
<text class="g b" transform="translate(890.18,1070.5) scale(1.03,1)" font-size="15.4" letter-spacing="0.156">14,5%</text>
<text class="g b" transform="translate(941.34,1166.1) scale(1.03,1)" font-size="15.4" letter-spacing="0.354">6,9%</text>
<text class="g b" transform="translate(629.62,1290.3) scale(1.03,1)" font-size="15.4" letter-spacing="0.568">74,5%</text>
<text class="h b" transform="translate(760.15,1357.2) scale(1.0,1)" font-size="15.7" letter-spacing="0.527">Năm 2005</text>
<text class="h b" transform="translate(267.74,1410.7) scale(1.0,1)" font-size="15.8" letter-spacing="0.019">Đường sắt</text>
<text class="h b" transform="translate(479.12,1411.9) scale(1.0,1)" font-size="15.8" letter-spacing="-0.049">Đường bộ</text>
<text class="h b" transform="translate(700.27,1410.6) scale(1.0,1)" font-size="15.8" letter-spacing="0.053">Đường sông</text>
<text class="h b" transform="translate(903.67,1407.8) scale(1.0,1)" font-size="15.8" letter-spacing="0.051">Đường biển</text>
</svg>
</body></html>
